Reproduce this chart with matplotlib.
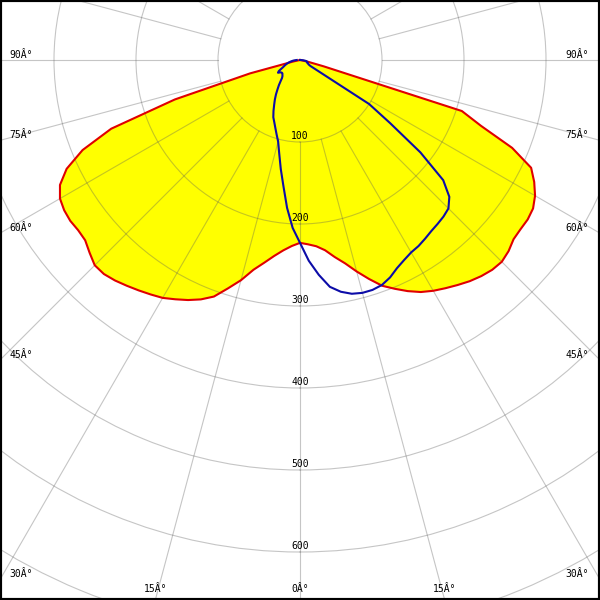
import numpy as np
import matplotlib
matplotlib.use("Agg")
import matplotlib.pyplot as plt
from matplotlib.patches import Rectangle

# luminous intensity (cd) vs gamma angle (deg)
gamma = [0, 2.5, 5, 7.5, 10, 12.5, 15, 17.5, 20, 22.5, 25, 27.5, 30, 32.5,
         35, 37.5, 40, 42.5, 45, 47.5, 50, 52.5, 55, 57.5, 60, 62.5, 65,
         67.5, 70, 72.5, 75, 77.5, 80, 82.5, 85, 87.5, 90]
# red plane, right / left half
c0 = [223, 225, 228, 234, 244, 254, 267, 280, 293, 302, 311, 319, 325, 330,
      335, 340, 344, 347, 348, 345, 340, 339, 339, 337, 331, 322, 311,
      280, 235, 207, 30, 10, 0, 0, 0, 0, 0]
c180 = [223, 227, 233, 241, 251, 262, 278, 292, 307, 316, 323, 329, 335, 339,
        343, 347, 351, 354, 354, 348, 342, 341, 342, 341, 338, 330, 314,
        287, 245, 160, 63, 8, 0, 0, 0, 0, 0]
# blue plane, right / left half
c90 = [223, 245, 263, 279, 287, 292, 294, 294, 292, 287, 280, 275, 271, 269,
       266, 263, 261, 259, 256, 247, 228, 185, 134, 100, 15, 12, 11,
       10, 10, 9, 9, 8, 8, 6, 4, 2, 0]
c270 = [223, 205, 181, 155, 135, 117, 103, 95, 88, 82, 77, 70, 63, 57,
        51, 45, 40, 35, 31, 29, 28, 27, 27, 28, 31, 29, 25,
        22, 20, 18, 16, 14, 12, 10, 8, 6, 4]

circles = [100, 200, 300, 400, 500, 600, 700, 800]
circle_labels = ["100", "200", "300", "400", "500", "600"]
edge_angles = [90, 75, 60, 45, 30, 15, 0]
edge_labels = ["90Â°", "75Â°", "60Â°", "45Â°", "30Â°", "15Â°", "0Â°"]

W = H = 600
cx, cy = 300, 60      # pole position in pixels (from top left)
scale = 0.82          # pixels per cd
rmax = 800
R = rmax * scale

grid_col = "#5a5a5a"
grid_alpha = 0.35

fig = plt.figure(figsize=(6, 6), dpi=100)
fig.patch.set_facecolor("white")
ax = fig.add_axes([(cx - R) / W, 1 - (cy + R) / H, 2 * R / W, 2 * R / H],
                  projection="polar")
ax.set_theta_zero_location("S")
ax.set_rlim(0, rmax)
ax.spines["polar"].set_visible(False)
ax.set_xticks([])
ax.set_yticks(circles)
ax.set_yticklabels([])
ax.yaxis.grid(True, color=grid_col, alpha=grid_alpha, lw=0.8)

# radial lines every 15 deg, starting at the 100 circle
for a in range(0, 360, 15):
    t = np.radians(a)
    ax.plot([t, t], [100, rmax], color=grid_col, alpha=grid_alpha, lw=0.8,
            zorder=1.5)

th = np.radians(gamma)
theta = np.concatenate([-th[::-1], th[1:]])
r_red = np.concatenate([np.array(c180)[::-1], c0[1:]])
r_blue = np.concatenate([np.array(c270)[::-1], c90[1:]])

ax.fill(theta, r_red, color="#ffff00", lw=0, zorder=1)
ax.plot(theta, r_red, color="#e00000", lw=1.5, zorder=3)
ax.plot(theta, r_blue, color="#0c0ca8", lw=1.5, zorder=3)

for r, lab in zip(circles, circle_labels):
    ax.annotate(lab, (0, r), xytext=(0, 1.9), textcoords="offset points",
                ha="center", va="baseline", fontsize=7,
                family="DejaVu Sans Mono", zorder=4)

# angle labels where the radial lines meet the border
for a, lab in zip(edge_angles, edge_labels):
    t = np.radians(a)
    if a >= 30:
        y = cy + cx * np.cos(t) / np.sin(t) - 2.5
        fig.text(9 / W, 1 - y / H, lab, ha="left", va="baseline",
                 fontsize=7, family="DejaVu Sans Mono")
        fig.text(589 / W, 1 - y / H, lab, ha="right", va="baseline",
                 fontsize=7, family="DejaVu Sans Mono")
    else:
        x = (H - cy) * np.tan(t)
        for xx in {cx - x, cx + x}:
            fig.text(xx / W, 1 - 592 / H, lab, ha="center", va="baseline",
                     fontsize=7, family="DejaVu Sans Mono")

fig.add_artist(Rectangle((0, 0), 1, 1, transform=fig.transFigure, fill=False,
                         edgecolor="black", lw=3, zorder=10))

fig.savefig("out.png", dpi=100)
plt.close(fig)
